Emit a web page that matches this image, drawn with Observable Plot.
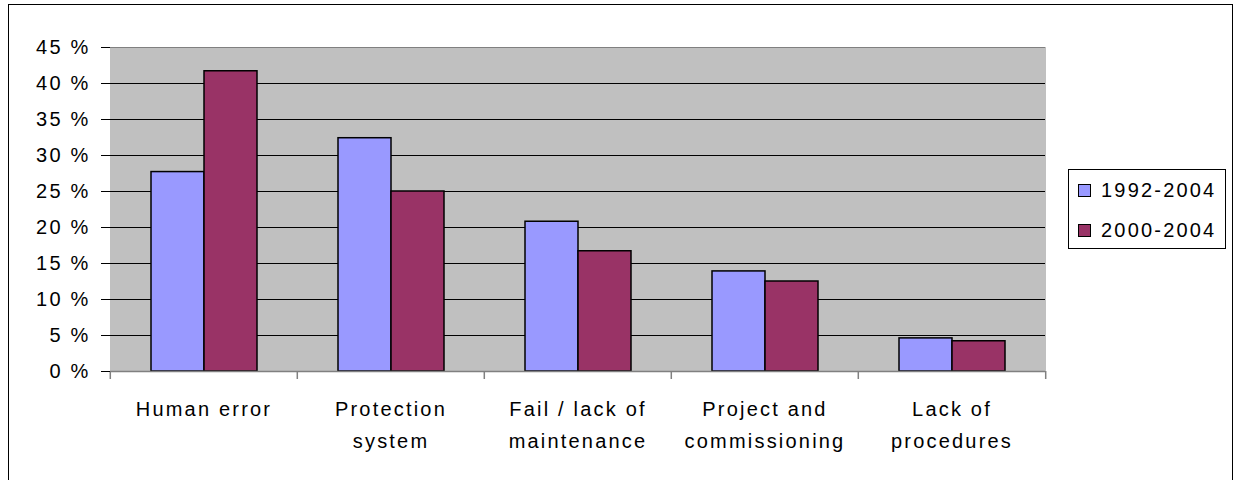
<!DOCTYPE html>
<html>
<head>
<meta charset="utf-8">
<script src="https://cdn.jsdelivr.net/npm/d3@7"></script>
<script src="https://cdn.jsdelivr.net/npm/@observablehq/plot@0.6"></script>
<style>
  html, body { margin: 0; padding: 0; background: #fff; }
  #wrap { position: relative; width: 1236px; height: 480px; overflow: hidden; font-family: "Liberation Sans", Arial, sans-serif; }
  #border { position: absolute; left: 8px; top: 4px; width: 1223px; height: 480px; border: 1px solid #000; box-sizing: content-box; }
  #chart { position: absolute; left: 0; top: 0; }
  #legend { position: absolute; left: 1068px; top: 169px; width: 158px; height: 80px; border: 1px solid #000; background: #fff; box-sizing: border-box; }
  .row { position: absolute; left: 9px; height: 24px; display: flex; align-items: center; font-size: 20px; letter-spacing: 2.2px; color: #000; }
  .sw { width: 11px; height: 11px; border: 1px solid #000; margin-right: 10px; }
</style>
</head>
<body>
<div id="wrap">
  <div id="border"></div>
  <div id="chart"></div>
  <div id="legend"></div>
</div>
<script>
const categories = ["Human error", "Protection\nsystem", "Fail / lack of\nmaintenance", "Project and\ncommissioning", "Lack of\nprocedures"];
const series = ["1992-2004", "2000-2004"];
const values1992 = [27.7, 32.4, 20.8, 13.9, 4.6];
const values2000 = [41.7, 25.0, 16.7, 12.5, 4.2];
const yTicks = [0, 5, 10, 15, 20, 25, 30, 35, 40, 45];
const colors = ["#9999FF", "#993366"];

const table = [];
categories.forEach((c, i) => {
  table.push({category: c, series: series[0], value: values1992[i]});
  table.push({category: c, series: series[1], value: values2000[i]});
});

const W = 1236, H = 480, mL = 109, mR = 190, mT = 47, mB = 109;
const bandW = (W - mL - mR) / categories.length;

const chart = Plot.plot({
  width: W, height: H,
  marginLeft: mL, marginRight: mR, marginTop: mT, marginBottom: mB,
  style: {fontFamily: "'Liberation Sans', Arial, sans-serif", fontSize: "20px", letterSpacing: "2.2px", background: "transparent", color: "#000", overflow: "visible"},
  fx: {domain: categories, padding: 0, label: null},
  x: {domain: series, paddingInner: 0, paddingOuter: 0.735, axis: null},
  y: {domain: [0, 45]},
  color: {domain: series, range: colors},
  marks: [
    Plot.frame({fill: "#c0c0c0", stroke: "#c0c0c0", strokeWidth: 1}),
    Plot.ruleY(yTicks.filter(t => t > 0 && t < 45), {stroke: "#000", strokeWidth: 1}),
    Plot.ruleY([45], {stroke: "#808080", strokeWidth: 1}),
    Plot.barY(table, {fx: "category", x: "series", y: "value", fill: "series", stroke: "#000", strokeWidth: 1.5}),
    Plot.ruleY([0], {stroke: "#808080", strokeWidth: 1.5}),
    // plot-area edges (left axis line and right border)
    Plot.axisY({anchor: "left", line: true, tickSize: 0, tickFormat: () => "", stroke: "#808080", strokeWidth: 1.5, strokeOpacity: 1, label: null}),
    Plot.axisY({anchor: "right", line: true, tickSize: 0, tickFormat: () => "", stroke: "#808080", strokeWidth: 1.5, strokeOpacity: 1, label: null}),
    // category boundary ticks below the axis
    Plot.axisFx({anchor: "bottom", tickSize: 8, tickFormat: () => "", dx: -bandW / 2, stroke: "#808080", strokeWidth: 1.5, strokeOpacity: 1, label: null}),
    Plot.axisFx({anchor: "bottom", ticks: [categories[categories.length - 1]], tickSize: 8, tickFormat: () => "", dx: bandW / 2, stroke: "#808080", strokeWidth: 1.5, strokeOpacity: 1, label: null}),
    Plot.axisY({ticks: yTicks, tickSize: 9, tickPadding: 11, tickFormat: d => d + " %", fontSize: 20, stroke: "#000", label: null}),
    Plot.axisFx({anchor: "bottom", tickSize: 0, tickPadding: 22, fontSize: 20, lineHeight: 1.6, label: null})
  ]
});
document.getElementById("chart").appendChild(chart);

const legend = document.getElementById("legend");
series.forEach((s, i) => {
  const row = document.createElement("div");
  row.className = "row";
  row.style.top = (8 + i * 40) + "px";
  const sw = document.createElement("div");
  sw.className = "sw";
  sw.style.background = colors[i];
  const t = document.createElement("span");
  t.textContent = s;
  row.appendChild(sw);
  row.appendChild(t);
  legend.appendChild(row);
});
</script>
</body>
</html>
